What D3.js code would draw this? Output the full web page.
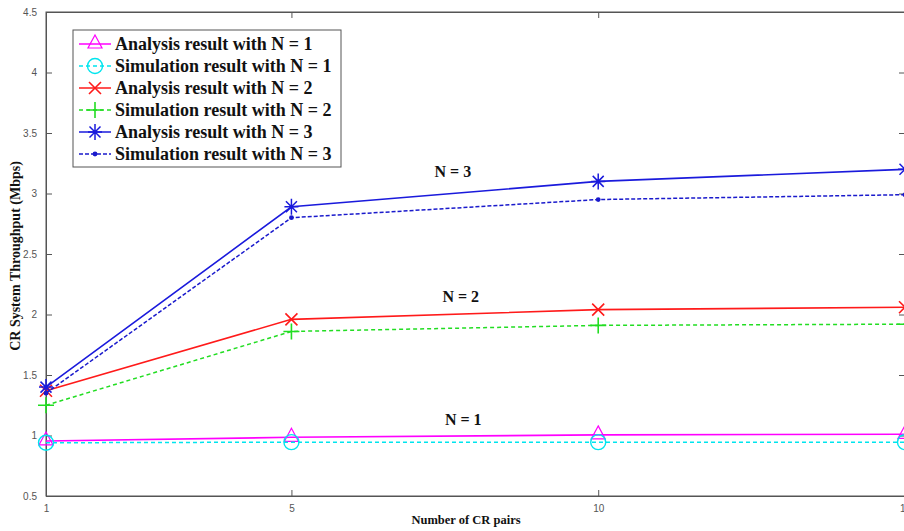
<!DOCTYPE html>
<html>
<head>
<meta charset="utf-8">
<script src="https://cdn.jsdelivr.net/npm/d3@7"></script>
<style>
  html, body { margin: 0; padding: 0; background: #fff; }
  svg { display: block; }
</style>
</head>
<body>
<svg id="chart" width="904" height="531"></svg>
<script>
// CR pairs on the x axis
const crPairs = [1, 5, 10, 15];

// Throughput (Mbps) per configuration
const analysisN1 = [0.955, 0.985, 1.005, 1.01];
const simulationN1 = [0.94, 0.945, 0.945, 0.945];
const analysisN2 = [1.37, 1.96, 2.04, 2.06];
const simulationN2 = [1.25, 1.86, 1.91, 1.92];
const analysisN3 = [1.40, 2.89, 3.10, 3.20];
const simulationN3 = [1.35, 2.80, 2.95, 2.99];

const xTicks = [1, 5, 10, 15];
const yTicks = [0.5, 1, 1.5, 2, 2.5, 3, 3.5, 4, 4.5];

const seriesNames = [
  "Analysis result with N = 1",
  "Simulation result with N = 1",
  "Analysis result with N = 2",
  "Simulation result with N = 2",
  "Analysis result with N = 3",
  "Simulation result with N = 3"
];

const series = [
  { name: seriesNames[0], values: analysisN1, color: "#ff00ff", dash: null, marker: "triangle" },
  { name: seriesNames[1], values: simulationN1, color: "#00e5ee", dash: "4,3", marker: "circle" },
  { name: seriesNames[2], values: analysisN2, color: "#ff1a1a", dash: null, marker: "x" },
  { name: seriesNames[3], values: simulationN2, color: "#22dd22", dash: "4,3", marker: "plus" },
  { name: seriesNames[4], values: analysisN3, color: "#1a1adc", dash: null, marker: "star" },
  { name: seriesNames[5], values: simulationN3, color: "#1a1acc", dash: "4,2", marker: "dot" }
];

// Group labels placed in data coordinates
const curveLabels = [
  { text: "N = 3", x: 7.63, y: 3.135 },
  { text: "N = 2", x: 7.76, y: 2.10 },
  { text: "N = 1", x: 7.80, y: 1.087 }
];

const svg = d3.select("#chart");
const plotLeft = 46, plotRight = 905, plotTop = 12, plotBottom = 496;

const x = d3.scaleLinear().domain([1, 15]).range([plotLeft, plotRight]);
const y = d3.scaleLinear().domain([0.5, 4.5]).range([plotBottom, plotTop]);

const axisColor = "#555";
const tickFont = "'Liberation Sans', Arial, sans-serif";
const serif = "'Liberation Serif', 'Times New Roman', serif";

// Plot frame
svg.append("rect")
  .attr("x", plotLeft).attr("y", plotTop)
  .attr("width", plotRight - plotLeft).attr("height", plotBottom - plotTop)
  .attr("fill", "none").attr("stroke", axisColor).attr("stroke-width", 1);

// Axes with inward ticks
const xAxis = svg.append("g").attr("transform", `translate(0,${plotBottom})`)
  .call(d3.axisBottom(x).tickValues(xTicks).tickSize(-6).tickPadding(9).tickFormat(d3.format("d")));
const xAxisTop = svg.append("g").attr("transform", `translate(0,${plotTop})`)
  .call(d3.axisTop(x).tickValues(xTicks).tickSize(-6).tickFormat(""));
const yAxis = svg.append("g").attr("transform", `translate(${plotLeft},0)`)
  .call(d3.axisLeft(y).tickValues(yTicks).tickSize(-6).tickPadding(9).tickFormat(d => d3.format("")(d)));
const yAxisRight = svg.append("g").attr("transform", `translate(${plotRight},0)`)
  .call(d3.axisRight(y).tickValues(yTicks).tickSize(-6).tickFormat(""));

[xAxis, xAxisTop, yAxis, yAxisRight].forEach(g => {
  g.select(".domain").attr("stroke", axisColor);
  g.selectAll(".tick line").attr("stroke", axisColor);
  g.selectAll(".tick text")
    .attr("fill", "#555")
    .style("font-family", tickFont)
    .style("font-size", "10px");
});

// Axis titles
svg.append("text")
  .attr("x", 466).attr("y", 524)
  .attr("text-anchor", "middle")
  .style("font-family", serif).style("font-weight", "bold").style("font-size", "12.5px")
  .attr("fill", "#111")
  .text("Number of CR pairs");

svg.append("text")
  .attr("transform", "translate(20,256) rotate(-90)")
  .attr("text-anchor", "middle")
  .style("font-family", serif).style("font-weight", "bold").style("font-size", "14px")
  .attr("fill", "#111")
  .text("CR System Throughput (Mbps)");

// Marker drawing
function drawMarker(g, type, color) {
  switch (type) {
    case "triangle":
      g.append("path").attr("d", "M0,-9 L7,4 L-7,4 Z")
        .attr("fill", "none").attr("stroke", color).attr("stroke-width", 1.2);
      break;
    case "circle":
      g.append("circle").attr("r", 7.5)
        .attr("fill", "none").attr("stroke", color).attr("stroke-width", 1.4);
      break;
    case "x":
      g.append("path").attr("d", "M-6,-6 L6,6 M-6,6 L6,-6")
        .attr("stroke", color).attr("stroke-width", 1.6);
      break;
    case "plus":
      g.append("path").attr("d", "M-8,0 L8,0 M0,-8 L0,8")
        .attr("stroke", color).attr("stroke-width", 1.6);
      break;
    case "star":
      g.append("path").attr("d", "M-7,0 L7,0 M0,-8 L0,8 M-5.5,-5.5 L5.5,5.5 M-5.5,5.5 L5.5,-5.5")
        .attr("stroke", color).attr("stroke-width", 1.5);
      break;
    case "dot":
      g.append("circle").attr("r", 2.4).attr("fill", color);
      break;
  }
}

// Data lines and markers
const line = d3.line().x((d, i) => x(crPairs[i])).y(d => y(d));

series.forEach(s => {
  svg.append("path")
    .datum(s.values)
    .attr("d", line)
    .attr("fill", "none")
    .attr("stroke", s.color)
    .attr("stroke-width", s.dash ? 1.5 : 1.6)
    .attr("stroke-dasharray", s.dash);
  s.values.forEach((v, i) => {
    const g = svg.append("g").attr("transform", `translate(${x(crPairs[i])},${y(v)})`);
    drawMarker(g, s.marker, s.color);
  });
});

// Curve group labels
curveLabels.forEach(l => {
  svg.append("text")
    .attr("x", x(l.x)).attr("y", y(l.y))
    .attr("text-anchor", "middle")
    .style("font-family", serif).style("font-weight", "bold").style("font-size", "16px")
    .attr("fill", "#111")
    .text(l.text);
});

// Legend
const legend = svg.append("g").attr("transform", "translate(73,30)");
legend.append("rect")
  .attr("width", 268).attr("height", 137)
  .attr("fill", "#fff").attr("stroke", "#555").attr("stroke-width", 1);

series.forEach((s, i) => {
  const row = legend.append("g").attr("transform", `translate(0,${14 + i * 22})`);
  row.append("line")
    .attr("x1", 6).attr("x2", 38).attr("y1", 0).attr("y2", 0)
    .attr("stroke", s.color).attr("stroke-width", 1.5)
    .attr("stroke-dasharray", s.dash);
  const m = row.append("g").attr("transform", "translate(22,0)");
  drawMarker(m, s.marker, s.color);
  row.append("text")
    .attr("x", 42).attr("y", 6)
    .style("font-family", serif).style("font-weight", "bold").style("font-size", "18px")
    .attr("fill", "#111")
    .text(s.name);
});
</script>
</body>
</html>
